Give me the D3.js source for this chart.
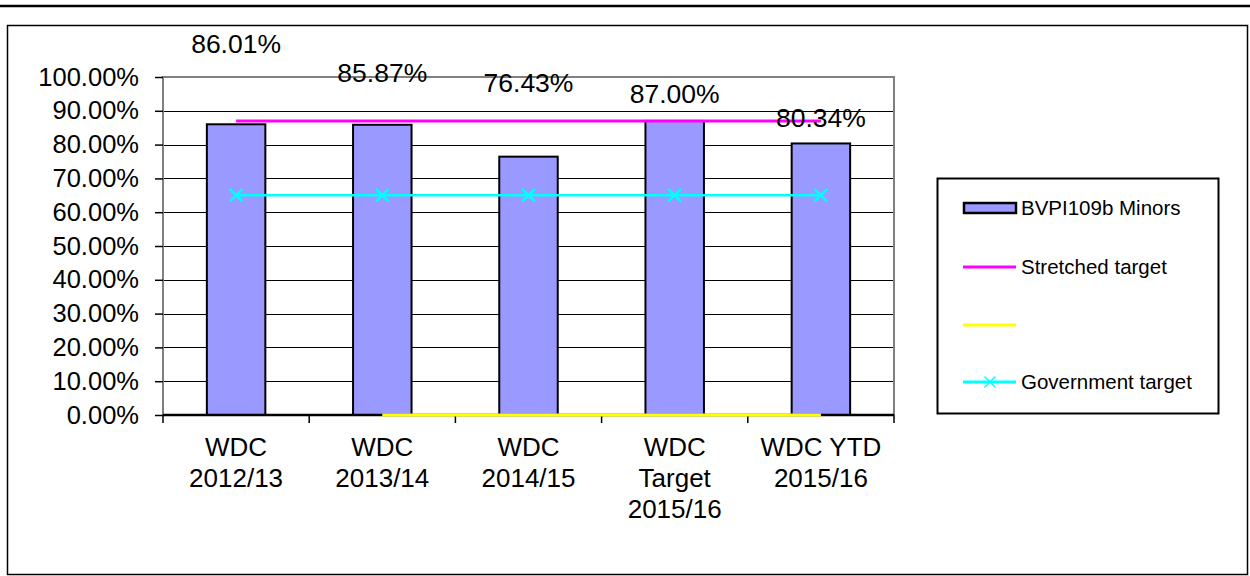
<!DOCTYPE html>
<html>
<head>
<meta charset="utf-8">
<script src="https://cdn.jsdelivr.net/npm/d3@7"></script>
<style>
  body { margin: 0; background: #fff; }
  svg { display: block; font-family: "Liberation Sans", Arial, sans-serif; }
</style>
</head>
<body>
<svg width="1250" height="576"></svg>
<script>
// data
var categories = ["WDC\n2012/13", "WDC\n2013/14", "WDC\n2014/15", "WDC\nTarget\n2015/16", "WDC YTD\n2015/16"];
var minors = [0.8601, 0.8587, 0.7643, 0.87, 0.8034];
var stretched = [0.87, 0.87, 0.87, 0.87, 0.87];
var yellowSeries = [null, 0, 0, 0, 0];
var government = [0.65, 0.65, 0.65, 0.65, 0.65];
var yTicks = [0, 0.1, 0.2, 0.3, 0.4, 0.5, 0.6, 0.7, 0.8, 0.9, 1];
var legendNames = ["BVPI109b Minors", "Stretched target", "", "Government target"];

// the value labels sit oddly high in the original, shift them the same way
var labelDy = [-71, -43, -65, -18, -16];

var svg = d3.select("svg");
var plotL = 163, plotR = 894, plotT = 77, plotB = 415;

// top rule and outer frame
svg.append("line")
  .attr("x1", 0).attr("x2", 1250).attr("y1", 6).attr("y2", 6)
  .attr("stroke", "#000").attr("stroke-width", 2.5);
svg.append("rect")
  .attr("x", 7.5).attr("y", 25.5).attr("width", 1240).attr("height", 549)
  .attr("fill", "none").attr("stroke", "#000").attr("stroke-width", 1.5);

var x = d3.scaleBand().domain(categories).range([plotL, plotR]);
var y = d3.scaleLinear().domain([0, 1]).range([plotB, plotT]);
var fmt = d3.format(".2%");

// gridlines
svg.append("g").selectAll("line")
  .data(yTicks.filter(function(d) { return d > 0 && d < 1; }))
  .enter().append("line")
  .attr("x1", plotL).attr("x2", plotR)
  .attr("y1", function(d) { return Math.round(y(d)) + 0.5; })
  .attr("y2", function(d) { return Math.round(y(d)) + 0.5; })
  .attr("stroke", "#000").attr("stroke-width", 1.2);

// plot frame (grey)
svg.append("path")
  .attr("d", "M" + plotL + "," + plotB + "V" + plotT + "H" + plotR + "V" + plotB)
  .attr("fill", "none").attr("stroke", "#808080").attr("stroke-width", 2);

// y axis
var yAxis = svg.append("g")
  .attr("transform", "translate(" + plotL + ",0)")
  .call(d3.axisLeft(y).tickValues(yTicks).tickFormat(fmt).tickSize(8).tickPadding(16));
yAxis.select(".domain").remove();
yAxis.selectAll(".tick line").attr("stroke", "#000").attr("stroke-width", 1.5);
yAxis.selectAll("text").attr("font-size", 25.5).attr("fill", "#000")
  .attr("font-family", "Liberation Sans, Arial, sans-serif");

// bars
var bw = x.bandwidth() * 0.4;
svg.append("g").selectAll("rect")
  .data(minors)
  .enter().append("rect")
  .attr("x", function(d, i) { return x(categories[i]) + (x.bandwidth() - bw) / 2; })
  .attr("y", function(d) { return y(d); })
  .attr("width", bw)
  .attr("height", function(d) { return y(0) - y(d); })
  .attr("fill", "#9999FF").attr("stroke", "#000").attr("stroke-width", 2);

// x axis
svg.append("line")
  .attr("x1", plotL).attr("x2", plotR).attr("y1", plotB).attr("y2", plotB)
  .attr("stroke", "#000").attr("stroke-width", 2.5);
var bounds = categories.map(function(c) { return x(c); }).concat([plotR]);
svg.append("g").selectAll("line")
  .data(bounds)
  .enter().append("line")
  .attr("x1", function(d) { return d; }).attr("x2", function(d) { return d; })
  .attr("y1", plotB).attr("y2", plotB + 8)
  .attr("stroke", "#000").attr("stroke-width", 1.5);

var xLab = svg.append("g").selectAll("text")
  .data(categories)
  .enter().append("text")
  .attr("text-anchor", "middle")
  .attr("font-size", 26)
  .attr("fill", "#000");
xLab.each(function(c) {
  var t = d3.select(this);
  c.split("\n").forEach(function(line, k) {
    t.append("tspan")
      .attr("x", x(c) + x.bandwidth() / 2)
      .attr("y", 456 + k * 31)
      .text(line);
  });
});

var cx = function(d, i) { return x(categories[i]) + x.bandwidth() / 2; };

// yellow series at zero
var lineGen = d3.line()
  .defined(function(d) { return d != null; })
  .x(cx)
  .y(function(d) { return y(d); });
svg.append("path")
  .datum(yellowSeries)
  .attr("d", lineGen)
  .attr("fill", "none").attr("stroke", "#FFFF00").attr("stroke-width", 3);

// stretched target
svg.append("path")
  .datum(stretched)
  .attr("d", lineGen)
  .attr("fill", "none").attr("stroke", "#FF00FF").attr("stroke-width", 3);

// government target with x markers
svg.append("path")
  .datum(government)
  .attr("d", lineGen)
  .attr("fill", "none").attr("stroke", "#00FFFF").attr("stroke-width", 2.5);
var cross = d3.symbol().type(d3.symbolX).size(110);
svg.append("g").selectAll("path")
  .data(government)
  .enter().append("path")
  .attr("d", cross)
  .attr("transform", function(d, i) { return "translate(" + cx(d, i) + "," + y(d) + ")"; })
  .attr("fill", "none").attr("stroke", "#00FFFF").attr("stroke-width", 2.5);

// value labels
svg.append("g").selectAll("text")
  .data(minors)
  .enter().append("text")
  .attr("x", cx)
  .attr("y", function(d, i) { return y(d) + labelDy[i]; })
  .attr("text-anchor", "middle")
  .attr("font-size", 26.5)
  .attr("fill", "#000")
  .text(fmt);

// legend
var lg = svg.append("g").attr("transform", "translate(937,178)");
lg.append("rect")
  .attr("x", 0.5).attr("y", 0.5).attr("width", 281).attr("height", 235)
  .attr("fill", "#fff").attr("stroke", "#000").attr("stroke-width", 2);
var rowY = [30, 89, 147, 204];
var swatchColors = [null, "#FF00FF", "#FFFF00", "#00FFFF"];
legendNames.forEach(function(name, i) {
  var ry = rowY[i];
  if (i === 0) {
    lg.append("rect")
      .attr("x", 27).attr("y", ry - 5).attr("width", 52).attr("height", 10)
      .attr("fill", "#9999FF").attr("stroke", "#000").attr("stroke-width", 2.5);
  } else {
    lg.append("line")
      .attr("x1", 26).attr("x2", 79).attr("y1", ry).attr("y2", ry)
      .attr("stroke", swatchColors[i]).attr("stroke-width", 3);
  }
  if (i === 3) {
    lg.append("path")
      .attr("d", d3.symbol().type(d3.symbolX).size(80))
      .attr("transform", "translate(53," + ry + ")")
      .attr("fill", "none").attr("stroke", "#00FFFF").attr("stroke-width", 1.5);
  }
  lg.append("text")
    .attr("x", 84).attr("y", ry + 7)
    .attr("font-size", 20.5)
    .attr("fill", "#000")
    .text(name);
});
</script>
</body>
</html>
